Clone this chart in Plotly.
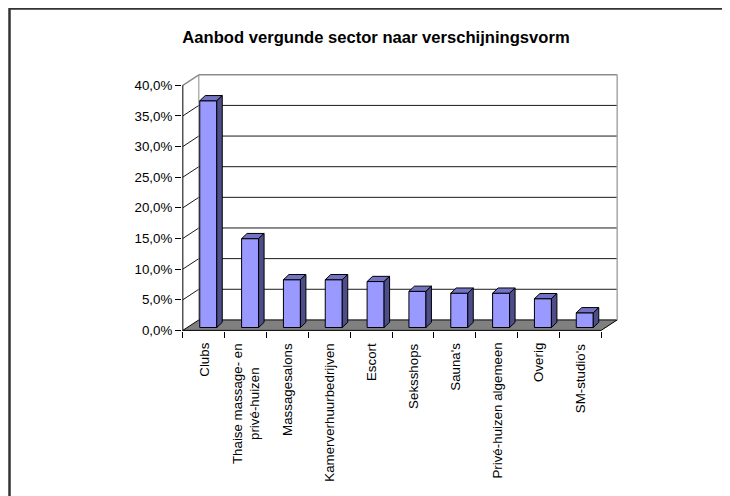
import plotly.graph_objects as go

# ---------------- data ----------------
categories = ["Clubs", "Thaise massage- en<br>privé-huizen", "Massagesalons",
              "Kamerverhuurbedrijven", "Escort", "Seksshops", "Sauna's",
              "Privé-huizen algemeen", "Overig", "SM-studio's"]
values = [0.370, 0.145, 0.078, 0.078, 0.075, 0.059, 0.056, 0.056, 0.047, 0.024]
y_ticks = [0.0, 0.05, 0.10, 0.15, 0.20, 0.25, 0.30, 0.35, 0.40]
title_text = "Aanbod vergunde sector naar verschijningsvorm"

# ---------------- layout constants ----------------
# the page body has an 8px margin, so the figure is 8px smaller and shifted
OFF = 8
W, H = 730 - OFF, 496 - OFF
ML, MR, MT, MB = 182 - OFF, 110, 73 - OFF, 165
XR = [-0.52, 9.95]
YR = [-0.001, 0.42]
PW, PH = W - ML - MR, H - MT - MB

# 3-D depth offsets (data units)
DX, DY = 0.3825, 0.0171     # floor / wall depth
BX, BY = 0.1076, 0.0047     # bar front-face position inside the depth
BW = 0.406                  # bar width
SX, SY = 0.1315, 0.0085     # bar depth

FONT = "Liberation Sans, Arial, sans-serif"
n = len(categories)
idx = list(range(n))
bounds = [i - 0.5 for i in range(n + 1)]
top_v = y_ticks[-1]
xl, xr = -0.5, n - 0.5

fig = go.Figure()


def seg(x0, y0, x1, y1, color, width):
    fig.add_shape(type="line", xref="x", yref="y", x0=x0, y0=y0, x1=x1, y1=y1,
                  line=dict(color=color, width=width), layer="below")


# floor
fig.add_shape(type="path", xref="x", yref="y", layer="below",
              path=f"M {xl},0 L {xr},0 L {xr + DX},{DY} L {xl + DX},{DY} Z",
              fillcolor="#808080", line=dict(color="black", width=1))

# back wall + side wall gridlines
for v in y_ticks[1:-1]:
    seg(xl + DX, v + DY, xr + DX, v + DY, "#1a1a1a", 1)
    seg(xl, v, xl + DX, v + DY, "#1a1a1a", 1)

# wall borders (grey)
seg(xl, top_v, xl + DX, top_v + DY, "#8c8c8c", 1.5)
seg(xl + DX, top_v + DY, xr + DX, top_v + DY, "#8c8c8c", 1.5)
seg(xr + DX, DY, xr + DX, top_v + DY, "#a6a6a6", 1.5)
seg(xl + DX, DY, xl + DX, top_v + DY, "#8c8c8c", 1)

# front value axis line
seg(xl, YR[0], xl, top_v, "black", 1)

# bars: front faces
fig.add_trace(go.Bar(
    x=[i + BX for i in idx], y=values, base=BY, width=BW,
    marker=dict(color="#9999FF", line=dict(color="black", width=1)),
    hoverinfo="skip"))

# bars: top and side faces
tx, ty, rx, ry = [], [], [], []
for i, v in zip(idx, values):
    x0 = i + BX - BW / 2
    x1 = i + BX + BW / 2
    t = BY + v
    tx += [x0, x1, x1 + SX, x0 + SX, x0, None]
    ty += [t, t, t + SY, t + SY, t, None]
    rx += [x1, x1 + SX, x1 + SX, x1, x1, None]
    ry += [BY, BY + SY, t + SY, t, BY, None]
fig.add_trace(go.Scatter(x=tx, y=ty, fill="toself", fillcolor="#7373C4",
                         mode="lines", line=dict(color="black", width=1),
                         hoverinfo="skip"))
fig.add_trace(go.Scatter(x=rx, y=ry, fill="toself", fillcolor="#4D4D8A",
                         mode="lines", line=dict(color="black", width=1),
                         hoverinfo="skip"))


def px_x(p):
    return (p - OFF - ML) / PW


def px_y(p):
    return (H - MB - (p - OFF)) / PH


# category labels (rotated, centred lines)
for i, c in zip(idx, categories):
    fig.add_annotation(x=i, y=px_y(341), xref="x", yref="paper", text=c,
                       textangle=-90, showarrow=False, xanchor="center",
                       yanchor="top", align="center",
                       font=dict(family=FONT, size=13.33, color="black"))

# chart frame
fig.add_shape(type="rect", xref="paper", yref="paper",
              x0=px_x(9.5), x1=px_x(728), y0=px_y(540), y1=px_y(8.5),
              line=dict(color="#333333", width=2.5), layer="above")

fig.update_layout(
    width=W, height=H,
    margin=dict(l=ML, r=MR, t=MT, b=MB, pad=0),
    paper_bgcolor="white", plot_bgcolor="white",
    showlegend=False, separators=",.",
    title=dict(text="<b>" + title_text + "</b>", xref="container", yref="container",
               x=(376 - OFF) / W, y=1 - (37 - OFF) / H, xanchor="center", yanchor="middle",
               font=dict(family=FONT, size=16.6, color="black")),
    xaxis=dict(range=XR, tickvals=bounds, ticktext=[""] * len(bounds),
               ticks="outside", ticklen=6, tickcolor="black", tickwidth=1,
               showgrid=False, zeroline=False, showline=False, fixedrange=True),
    yaxis=dict(range=YR, tickvals=y_ticks, tickformat=".1%",
               ticks="outside", ticklen=6, tickcolor="black", tickwidth=1,
               showgrid=False, zeroline=False, showline=False, fixedrange=True,
               tickfont=dict(family=FONT, size=13.33, color="black")),
    font=dict(family=FONT, color="black"),
)

fig.write_html("out.html")
